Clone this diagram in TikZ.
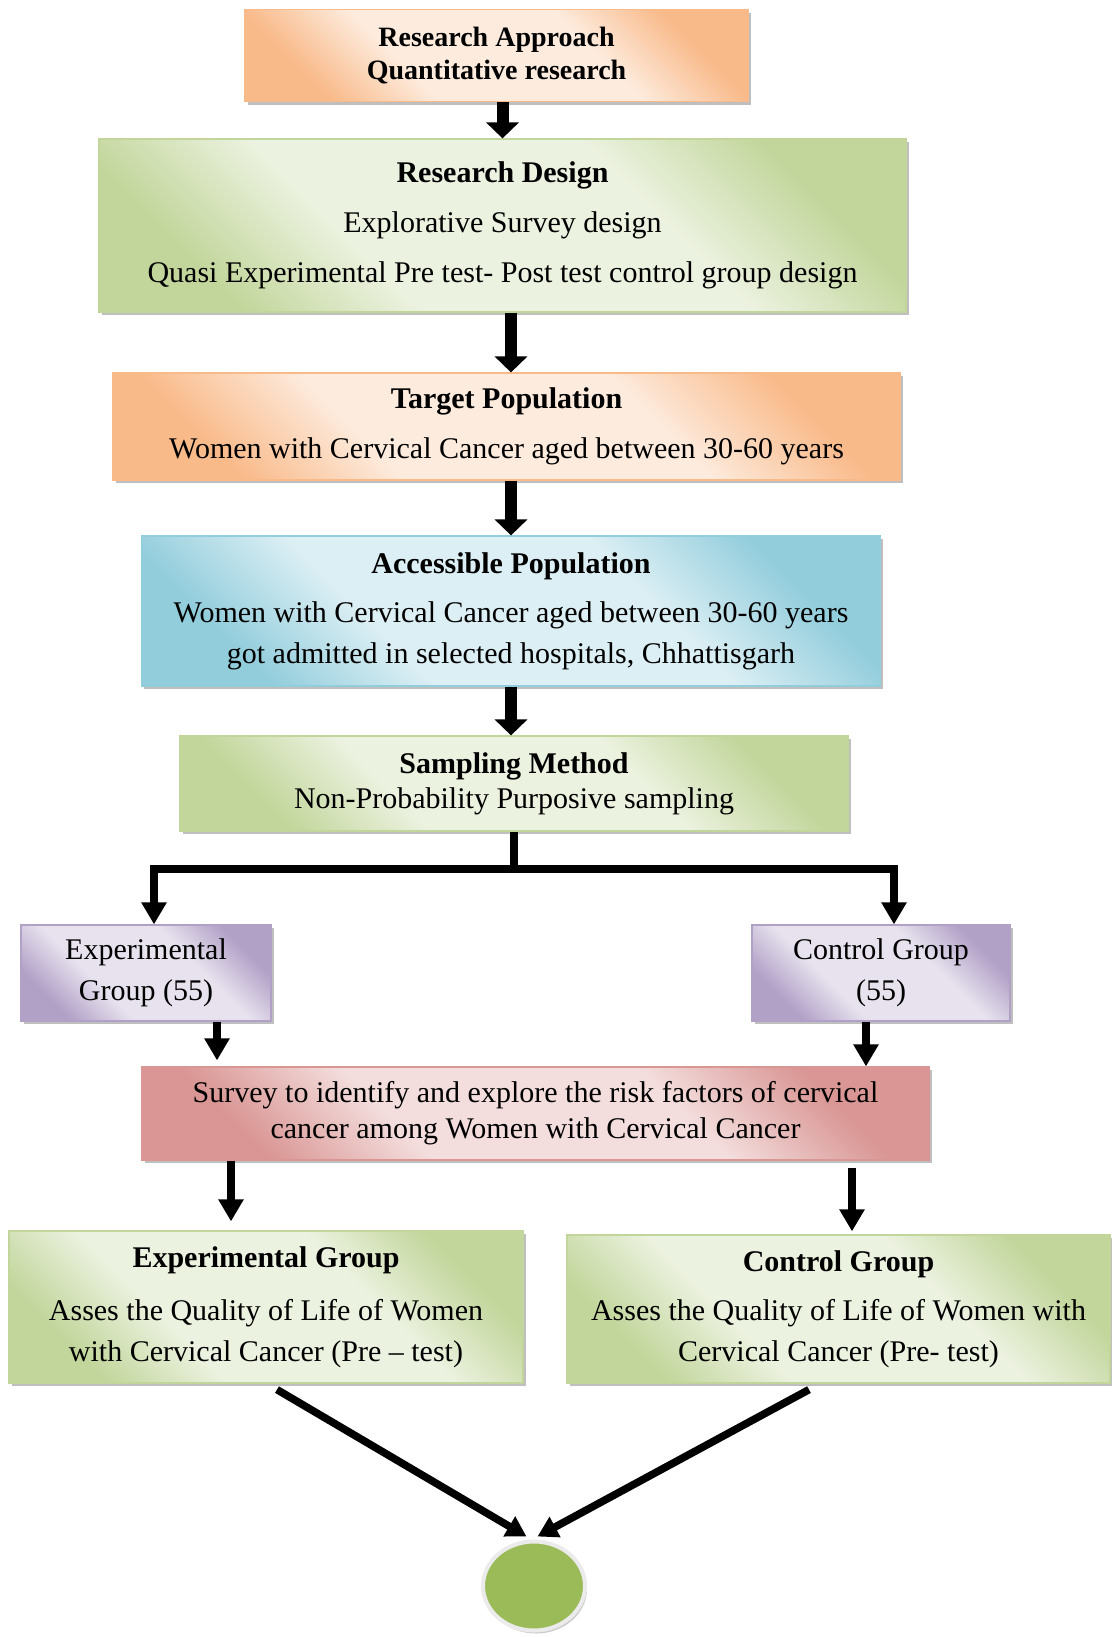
\documentclass[tikz,border=0pt]{standalone}
\usepackage{fontspec}
\setmainfont{Liberation Serif}
\usetikzlibrary{arrows.meta,calc,shadows,shapes.geometric}
\definecolor{orD}{RGB}{249,186,138}
\definecolor{orL}{RGB}{253,236,222}
\definecolor{grD}{RGB}{194,214,155}
\definecolor{grL}{RGB}{236,242,224}
\definecolor{blD}{RGB}{146,205,220}
\definecolor{blL}{RGB}{220,239,244}
\definecolor{puD}{RGB}{178,161,199}
\definecolor{puL}{RGB}{231,226,238}
\definecolor{rdD}{RGB}{217,150,148}
\definecolor{rdL}{RGB}{243,222,221}
\definecolor{dotG}{RGB}{155,187,89}
\pgfdeclareverticalshading{shor}{100bp}{color(0bp)=(orD); color(25bp)=(orD); color(38bp)=(orL); color(62bp)=(orL); color(75bp)=(orD); color(100bp)=(orD)}
\pgfdeclareverticalshading{shgr}{100bp}{color(0bp)=(grD); color(25bp)=(grD); color(38bp)=(grL); color(62bp)=(grL); color(75bp)=(grD); color(100bp)=(grD)}
\pgfdeclareverticalshading{shbl}{100bp}{color(0bp)=(blD); color(25bp)=(blD); color(38bp)=(blL); color(62bp)=(blL); color(75bp)=(blD); color(100bp)=(blD)}
\pgfdeclareverticalshading{shpu}{100bp}{color(0bp)=(puD); color(25bp)=(puD); color(38bp)=(puL); color(62bp)=(puL); color(75bp)=(puD); color(100bp)=(puD)}
\pgfdeclareverticalshading{shrd}{100bp}{color(0bp)=(rdD); color(25bp)=(rdD); color(38bp)=(rdL); color(62bp)=(rdL); color(75bp)=(rdD); color(100bp)=(rdD)}
\tikzset{
  box/.style={rectangle, inner sep=0pt, align=center, line width=0.6pt,
    drop shadow={shadow xshift=1.3pt, shadow yshift=-1.6pt, opacity=0.45, fill=black!55}},
  body/.style={font=\fontsize{15}{20.5}\selectfont},
  orbox/.style={box, shading=shor, shading angle=-45, draw=orD},
  grbox/.style={box, shading=shgr, shading angle=-45, draw=grD},
  blbox/.style={box, shading=shbl, shading angle=-45, draw=blD},
  pubox/.style={box, shading=shpu, shading angle=-45, draw=puD},
  rdbox/.style={box, shading=shrd, shading angle=-45, draw=rdD},
  bigarrow/.style={line width=6pt, -{Triangle[width=16pt,length=8pt]}},
  branch/.style={line width=4pt},
  smarrow/.style={line width=4pt, -{Triangle[width=12pt,length=11pt]}},
  diagarrow/.style={line width=3.8pt, -{Triangle[width=11pt,length=10pt]}},
}
\begin{document}
\begin{tikzpicture}[x=0.5pt,y=-0.5pt]
\useasboundingbox[fill=white] (0,0) rectangle (1112,1637);

\node[orbox, minimum width=251.5pt, minimum height=46pt, font=\fontsize{14}{16.5}\selectfont\bfseries]
  (ra) at (496.5,55.5) {Research Approach\\Quantitative research};

\node[grbox, body, minimum width=403.5pt, minimum height=86.5pt]
  (rd) at (502.5,225.5) {\textbf{Research Design}\\[4.5pt]Explorative Survey design\\[4.5pt]Quasi Experimental Pre test- Post test control group design};

\node[orbox, body, minimum width=393.5pt, minimum height=53.5pt]
  (tp) at (506.5,426.5) {\textbf{Target Population}\\[4.5pt]Women with Cervical Cancer aged between 30-60 years};

\node[blbox, body, minimum width=369.5pt, minimum height=75pt]
  (ap) at (511,611) {\textbf{Accessible Population}\\[4pt]Women with Cervical Cancer aged between 30-60 years\\got admitted in selected hospitals, Chhattisgarh};

\node[grbox, font=\fontsize{15}{17.5}\selectfont, minimum width=334pt, minimum height=47.5pt]
  (sm) at (514,783.5) {\textbf{Sampling Method}\\Non-Probability Purposive sampling};

\node[pubox, body, minimum width=125pt, minimum height=48pt]
  (eg) at (146,973) {Experimental\\Group (55)};

\node[pubox, body, minimum width=129pt, minimum height=48pt]
  (cg) at (881,973) {Control Group\\(55)};

\node[rdbox, font=\fontsize{15}{18}\selectfont, minimum width=393.5pt, minimum height=46.5pt]
  (sv) at (535.5,1113.5) {Survey to identify and explore the risk factors of cervical\\cancer among Women with Cervical Cancer};

\node[grbox, body, minimum width=257pt, minimum height=76pt]
  (eg2) at (266,1307) {\textbf{Experimental Group}\\[6pt]Asses the Quality of Life of Women\\with Cervical Cancer (Pre -- test)};

\node[grbox, body, minimum width=271.5pt, minimum height=74pt]
  (cg2) at (838.5,1309) {\textbf{Control Group}\\[4pt]Asses the Quality of Life of Women with\\Cervical Cancer (Pre- test)};

\node[ellipse, inner sep=0pt, minimum width=51pt, minimum height=44.5pt, fill=dotG,
  draw=white!92!black, line width=2pt,
  drop shadow={shadow xshift=1pt, shadow yshift=-1.5pt, opacity=0.4, fill=black!50}]
  (dot) at (534,1586) {};

% main vertical arrows
\draw[bigarrow] (ra.south -| rd.north) -- (rd.north);
\draw[bigarrow] (rd.south -| ap.north) -- (tp.north -| ap.north);
\draw[bigarrow] (tp.south -| ap.north) -- (ap.north);
\draw[bigarrow] (ap.south) -- (sm.north -| ap.south);

% branch
\draw[branch] (sm.south) -- ++(0,37) coordinate (j);
\draw[branch, -{Triangle[width=12pt,length=11pt]}] (j) -| ($(eg.north)+(8,0)$);
\draw[branch, -{Triangle[width=12pt,length=11pt]}] (j) -| ($(cg.north)+(13,0)$);

% to survey
\draw[smarrow, shorten >=3pt] ($(eg.south)+(71,0)$) -- ($(eg.south |- sv.north)+(71,0)$);
\draw[smarrow] ($(cg.south)+(-15,0)$) -- ($(cg.south |- sv.north)+(-15,0)$);

% from survey
\draw[smarrow, shorten >=4.5pt] ($(eg2.north |- sv.south)+(-35,0)$) -- ($(eg2.north)+(-35,0)$);
\draw[smarrow, shorten <=3.5pt, shorten >=1.5pt] ($(cg2.north |- sv.south)+(13.5,0)$) -- ($(cg2.north)+(13.5,0)$);

% diagonal arrows
\draw[diagarrow] ($(eg2.south)+(11,6)$) -- ($(dot.north)+(-7.5,-3)$);
\draw[diagarrow] ($(cg2.south)+(-29.5,6)$) -- ($(dot.north)+(3.5,-3)$);
\end{tikzpicture}
\end{document}
